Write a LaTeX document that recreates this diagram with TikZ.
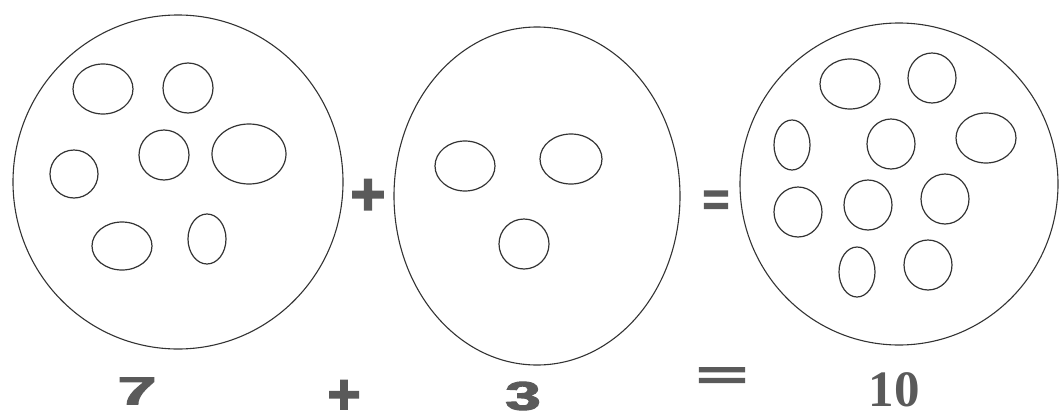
\documentclass[tikz,border=0pt]{standalone}
\usepackage{fontspec}
\setmainfont{Liberation Serif}
\newfontfamily\heavy[BoldFeatures={FakeBold=2.5}]{Liberation Sans}
\definecolor{ink}{HTML}{333333}
\definecolor{txt}{HTML}{5A5A5A}
\begin{document}
\begin{tikzpicture}[x=1pt,y=-1pt,
  big/.style={draw=ink,line width=1.1pt},
  dot/.style={draw=ink,line width=1.2pt},
  lbl/.style={inner sep=0pt,text=txt,anchor=center}]
\useasboundingbox (0,0) rectangle (1059,415);
% left set (7)
\draw[big] (178,182) ellipse [x radius=165pt,y radius=167pt];
\foreach \x/\y/\a/\b in {103/89/30/25,188/88/25/25,74/174/24/24,164/155/25/25,249/154/37/30,122/246/30/24,207/239/19/25}
  \draw[dot] (\x,\y) ellipse [x radius=\a pt,y radius=\b pt];
% middle set (3)
\draw[big] (537,196) ellipse [x radius=143pt,y radius=169pt];
\foreach \x/\y/\a/\b in {465/166/30/25,571/159/31/25,524/244/25/25}
  \draw[dot] (\x,\y) ellipse [x radius=\a pt,y radius=\b pt];
% right set (10)
\draw[big] (899,184) ellipse [x radius=159pt,y radius=161pt];
\foreach \x/\y/\a/\b in {850/84/30/25,932/78/24/25,792/145/18/25,891/144/24/25,986/138/30/25,798/212/24/25,868/205/24/25,945/199/24/25,857/272/18/25,928/265/24/25}
  \draw[dot] (\x,\y) ellipse [x radius=\a pt,y radius=\b pt];
% operators between sets
\node[lbl,font=\heavy\bfseries\fontsize{60}{60}\selectfont] (p1) at (368,197) {+};
\node[lbl,font=\heavy\bfseries\fontsize{46}{46}\selectfont] (e1) at (716,203) {=};
% bottom line
\node[lbl,font=\heavy\bfseries\fontsize{39}{39}\selectfont,xscale=1.8] (n7) at (137,391) {7};
\node[lbl,font=\heavy\bfseries\fontsize{57}{57}\selectfont] (p2) at (344,397) {+};
\node[lbl,font=\heavy\bfseries\fontsize{40}{40}\selectfont,xscale=1.6] (n3) at (523,396) {3};
\node[lbl,font=\heavy\bfseries\fontsize{40}{40}\selectfont,xscale=2.2] (e2) at (722,378) {=};
\node[lbl,font=\bfseries\fontsize{51}{51}\selectfont] (n10) at (894,390) {10};
\end{tikzpicture}
\end{document}
